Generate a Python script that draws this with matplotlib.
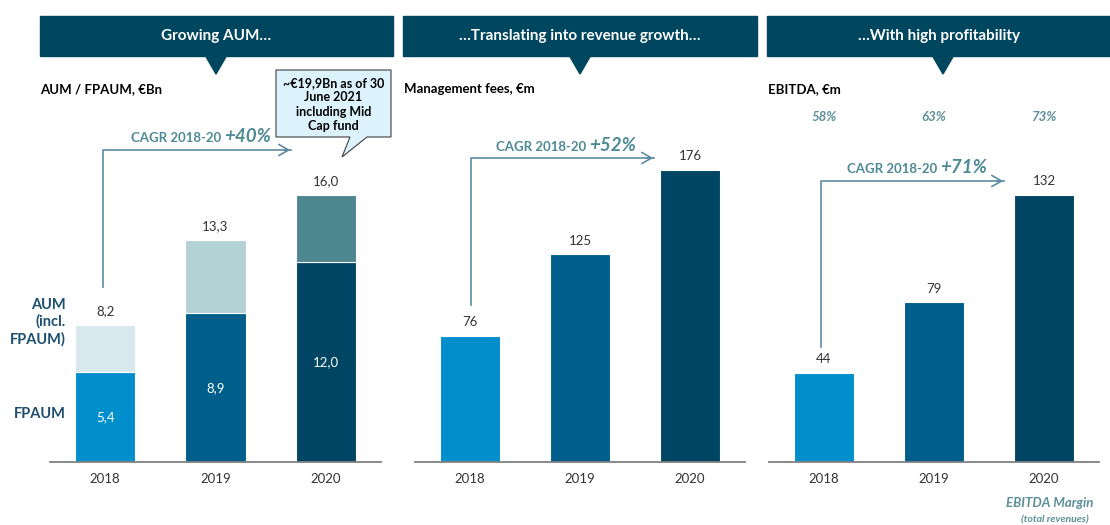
import matplotlib
matplotlib.use("Agg")
import matplotlib.pyplot as plt
from matplotlib.transforms import Affine2D, blended_transform_factory
from matplotlib.patches import Polygon, Rectangle, FancyArrowPatch
from matplotlib.lines import Line2D

plt.rcParams['font.family'] = ['Lato', 'DejaVu Sans']

# ---- data ----
years = ["2018", "2019", "2020"]
fpaum = [5.4, 8.9, 12.0]
aum_total = [8.2, 13.3, 16.0]
mgmt_fees = [76, 125, 176]
ebitda = [44, 79, 132]
ebitda_margin = ["58%", "63%", "73%"]
cagr = ["+40%", "+52%", "+71%"]
headers = ["Growing AUM…", "…Translating into revenue growth…", "…With high profitability"]
subtitles = ["AUM / FPAUM, €Bn", "Management fees, €m", "EBITDA, €m"]

W, H = 1110, 525
fig = plt.figure(figsize=(W / 100, H / 100), dpi=100)
fig.patch.set_facecolor("white")
# pixel coordinates measured from the top-left corner
PX = Affine2D().scale(1 / W, -1 / H).translate(0, 1) + fig.transFigure

BANNER = "#00465F"
TEAL = "#4E8A94"
ARROW = "#5E8BA3"
YEAR_COLS = ["#008ECC", "#005F8A", "#004563"]
AUM_COLS = ["#D8E8EE", "#B4D2D6", "#4F8790"]
LABEL_DARK = "#333333"

def fmt(v):
    return f"{v:.1f}".replace(".", ",")

# axes placement (pixels) and vertical scale (pixels per unit)
panels = [(50, 381, 16.7), (415, 745, 1.66), (769, 1099, 2.02)]
top_px, base_px = 60, 462
axes = []
for x0, x1, ppu in panels:
    ax = fig.add_axes([x0 / W, (H - base_px) / H, (x1 - x0) / W, (base_px - top_px) / H])
    ax.set_xlim(-0.5, 2.5)
    ax.set_ylim(0, (base_px - top_px) / ppu)
    for s in ("top", "right", "left"):
        ax.spines[s].set_visible(False)
    ax.spines["bottom"].set_color("#808080")
    ax.spines["bottom"].set_linewidth(1.3)
    ax.set_yticks([])
    ax.set_xticks(range(3))
    ax.set_xticklabels(years, fontsize=9.5, color=LABEL_DARK)
    ax.tick_params(axis="x", length=0, pad=8)
    ax.patch.set_alpha(0)
    axes.append(ax)

bw = 0.545
x = list(range(3))

# Panel 1: stacked AUM / FPAUM
ax = axes[0]
aum_rest = [t - f for t, f in zip(aum_total, fpaum)]
ax.bar(x, fpaum, width=bw, color=YEAR_COLS, edgecolor="white", linewidth=0.8)
ax.bar(x, aum_rest, bottom=fpaum, width=bw, color=AUM_COLS, edgecolor="white", linewidth=0.8)
for i in x:
    ax.text(i, fpaum[i] / 2, fmt(fpaum[i]), ha="center", va="center", color="white", fontsize=9.5)
    ax.annotate(fmt(aum_total[i]), (i, aum_total[i]), xytext=(0, 10), textcoords="offset points",
                ha="center", va="center", fontsize=9.5, color=LABEL_DARK)

# Panels 2 and 3: simple bars
for ax, vals in ((axes[1], mgmt_fees), (axes[2], ebitda)):
    ax.bar(x, vals, width=bw, color=YEAR_COLS, edgecolor="white", linewidth=0.8)
    for i in x:
        ax.annotate(f"{vals[i]}", (i, vals[i]), xytext=(0, 10), textcoords="offset points",
                    ha="center", va="center", fontsize=9.5, color=LABEL_DARK)

# Header banners with pointer triangles
banners = [(40, 393, 216), (403, 757, 580), (767, 1112, 943)]
for (bx0, bx1, tip), title in zip(banners, headers):
    fig.patches.append(Rectangle((bx0, 16), bx1 - bx0, 40, transform=PX, color=BANNER, zorder=1))
    fig.patches.append(Polygon([(tip - 11, 55), (tip + 11, 55), (tip, 74)], closed=True,
                               transform=PX, color=BANNER, zorder=1))
    fig.text((bx0 + min(bx1, W)) / 2, 36, title, transform=PX, ha="center", va="center",
             color="white", fontsize=11, fontweight="bold")

# Panel subtitles
for sx, s in zip((40, 404, 768), subtitles):
    fig.text(sx, 89, s, transform=PX, ha="left", va="center", fontsize=9.5, fontweight="bold", color="black")

# CAGR arrows: (x of riser, bottom y, top y, arrow end x, text x, text baseline y)
arrows = [(103, 287, 150, 293, 131, 142),
          (471, 305, 158, 656, 496, 151),
          (821, 347, 181, 1006, 847, 173)]
fig.canvas.draw()
renderer = fig.canvas.get_renderer()
for (ax0, yb, yt, ax1, tx, ty), c in zip(arrows, cagr):
    fig.lines.append(Line2D([ax0, ax0, ax1 - 2], [yb, yt, yt], transform=PX, color=ARROW, lw=1.2))
    fig.patches.append(FancyArrowPatch((ax1 - 12, yt), (ax1, yt), transform=PX,
                       arrowstyle="->,head_length=7,head_width=4", color=ARROW, lw=1.2,
                       mutation_scale=1))
    t1 = fig.text(tx, ty, "CAGR 2018-20 ", transform=PX, ha="left", va="baseline",
                  fontsize=9.5, fontweight="bold", color=TEAL)
    x_end = t1.get_window_extent(renderer).x1 * W / fig.bbox.width
    fig.text(x_end, ty, c, transform=PX, ha="left", va="baseline", fontsize=13.5,
             fontweight="bold", style="italic", color=TEAL)

# Callout box on the AUM panel
callout = [(276, 70), (391, 70), (391, 137), (367, 137), (342, 157), (350, 137), (276, 137)]
fig.patches.append(Polygon(callout, closed=True, transform=PX, facecolor="#DCF2FC",
                           edgecolor="#404040", lw=0.8, zorder=3))
fig.text(333.5, 104.5, "~€19,9Bn as of 30\nJune 2021\nincluding Mid\nCap fund", transform=PX,
         ha="center", va="center", fontsize=9, fontweight="bold", color="black",
         linespacing=1.25, zorder=4)

# Legend-style labels on the AUM panel
fig.text(66, 322, "AUM\n(incl.\nFPAUM)", transform=PX, ha="right", va="center", fontsize=10.5,
         fontweight="bold", color="#1E4F6E", linespacing=1.25)
fig.text(66, 414, "FPAUM", transform=PX, ha="right", va="center", fontsize=10.5,
         fontweight="bold", color="#1E4F6E")

# EBITDA margins
marg_tr = blended_transform_factory(axes[2].transData, PX)
for i, m in enumerate(ebitda_margin):
    axes[2].text(i, 117, m, transform=marg_tr, ha="center", va="center", fontsize=9.5,
                 fontweight="bold", style="italic", color="#5D8F99", clip_on=False)
fig.text(1050, 503, "EBITDA Margin", transform=PX, ha="center", va="center", fontsize=9.5,
         fontweight="bold", style="italic", color="#5D8F99")
fig.text(1055, 520, "(total revenues)", transform=PX, ha="center", va="center", fontsize=7.5,
         fontweight="bold", style="italic", color="#5D8F99")

fig.savefig("out.png", dpi=100)
